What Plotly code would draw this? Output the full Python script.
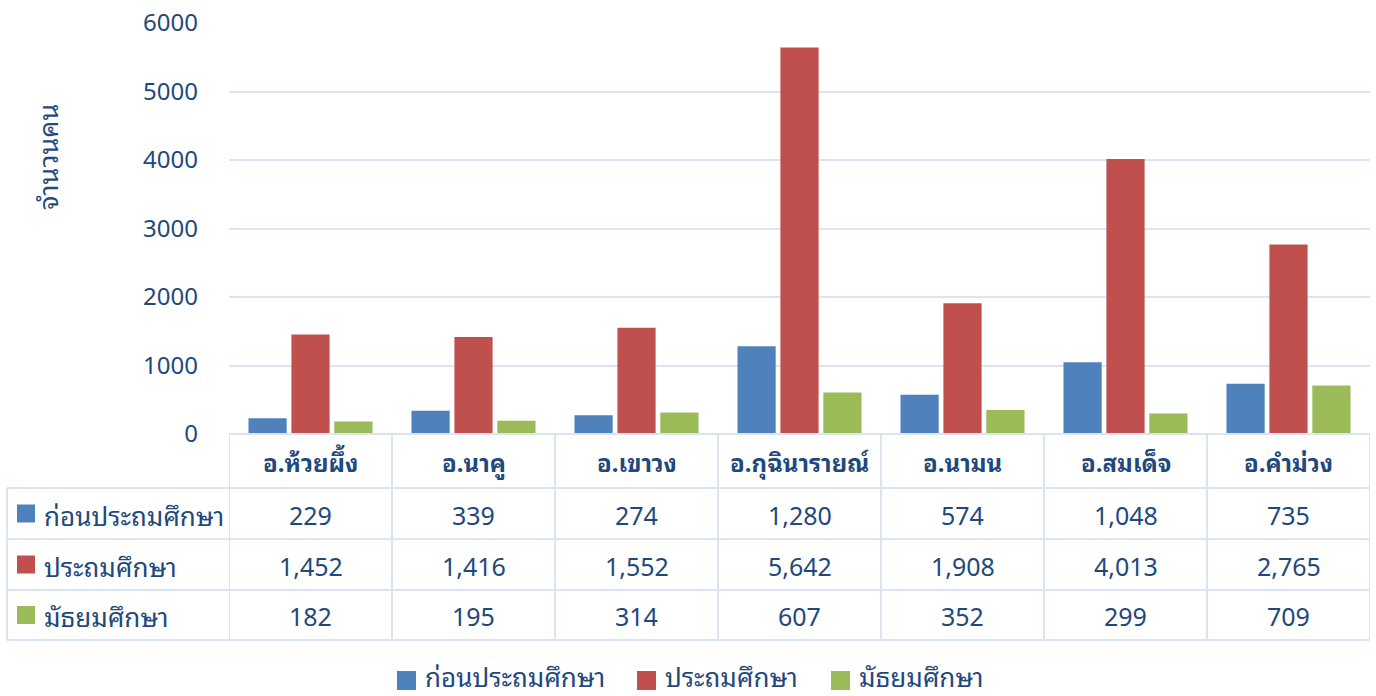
import plotly.graph_objects as go

categories = ["อ.ห้วยผึ้ง", "อ.นาคู", "อ.เขาวง", "อ.กุฉินารายณ์", "อ.นามน", "อ.สมเด็จ", "อ.คำม่วง"]
series_names = ["ก่อนประถมศึกษา", "ประถมศึกษา", "มัธยมศึกษา"]
pre_primary = [229, 339, 274, 1280, 574, 1048, 735]
primary = [1452, 1416, 1552, 5642, 1908, 4013, 2765]
secondary = [182, 195, 314, 607, 352, 299, 709]
y_ticks = [0, 1000, 2000, 3000, 4000, 5000, 6000]
y_title = "จำนวนคน"

series_values = [pre_primary, primary, secondary]
colors = ["#4F81BD", "#C0504D", "#9BBB59"]
text_color = "#1F497D"
grid_color = "#DAE5F3"
FONT = ("Tahoma, 'Noto Sans Thai Looped', 'Noto Looped Thai', Loma, Garuda, "
        "'Noto Sans', 'Noto Sans Thai', 'DejaVu Sans', sans-serif")

W, H = 1376, 696
L, R, T, B = 229, 1370, 23, 434  # plot area pixel bounds


def px_x(px):
    return (px - L) / (R - L)


def px_y(py):
    return (B - py) / (B - T)


fig = go.Figure()
for name, vals, col in zip(series_names, series_values, colors):
    fig.add_trace(go.Bar(
        x=list(range(len(categories))), y=vals, name=name,
        marker=dict(color=col, line=dict(width=0)),
        hoverinfo="y+name", showlegend=False,
    ))

shapes = []
annotations = []

row_y = [434, 488, 539, 590, 640]
line_style = dict(color=grid_color, width=2)
n = len(categories)
for i in range(n + 1):
    shapes.append(dict(type="line", xref="x", yref="paper",
                       x0=i - 0.5, x1=i - 0.5, y0=px_y(434), y1=px_y(640), line=line_style))
shapes.append(dict(type="line", xref="paper", yref="paper",
                   x0=px_x(7), x1=px_x(7), y0=px_y(488), y1=px_y(640), line=line_style))
for k, yy in enumerate(row_y):
    x0 = px_x(L) if k == 0 else px_x(7)
    shapes.append(dict(type="line", xref="paper", yref="paper",
                       x0=x0, x1=1, y0=px_y(yy), y1=px_y(yy), line=line_style))

for i, c in enumerate(categories):
    annotations.append(dict(x=i, y=px_y((434 + 488) / 2), xref="x", yref="paper",
                            text="<b>" + c + "</b>", showarrow=False,
                            font=dict(size=24, color=text_color, family=FONT),
                            xanchor="center", yanchor="middle"))

for r, (name, vals, col) in enumerate(zip(series_names, series_values, colors)):
    ymid = (row_y[r + 1] + row_y[r + 2]) / 2
    shapes.append(dict(type="rect", xref="paper", yref="paper",
                       x0=px_x(17), x1=px_x(35), y0=px_y(ymid - 9), y1=px_y(ymid + 9),
                       fillcolor=col, line=dict(width=0)))
    annotations.append(dict(x=px_x(42), y=px_y(ymid), xref="paper", yref="paper",
                            text=name, showarrow=False,
                            font=dict(size=26, color=text_color, family=FONT),
                            xanchor="left", yanchor="middle"))
    for i, v in enumerate(vals):
        annotations.append(dict(x=i, y=px_y(ymid), xref="x", yref="paper",
                                text=f"{v:,}", showarrow=False,
                                font=dict(size=25, color=text_color, family=FONT),
                                xanchor="center", yanchor="middle"))

# bottom legend (squares + labels)
legend_sq_x = [397, 637, 831]
for name, col, sx in zip(series_names, colors, legend_sq_x):
    shapes.append(dict(type="rect", xref="paper", yref="paper",
                       x0=px_x(sx), x1=px_x(sx + 19), y0=px_y(690), y1=px_y(671),
                       fillcolor=col, line=dict(width=0)))
    annotations.append(dict(x=px_x(sx + 26), y=px_y(698), xref="paper", yref="paper",
                            text=name, showarrow=False,
                            font=dict(size=26, color=text_color, family=FONT),
                            xanchor="left", yanchor="bottom"))

annotations.append(dict(x=px_x(45), y=px_y(157), xref="paper", yref="paper",
                        text=y_title, textangle=-90, showarrow=False,
                        font=dict(size=27, color=text_color, family=FONT),
                        xanchor="center", yanchor="middle"))

fig.update_layout(
    width=W, height=H,
    margin=dict(l=L, r=W - R, t=T, b=H - B, pad=0, autoexpand=False),
    paper_bgcolor="white", plot_bgcolor="white",
    barmode="group", bargap=0.21, bargroupgap=0.11,
    font=dict(family=FONT, color=text_color, size=24),
    xaxis=dict(range=[-0.5, n - 0.5], showticklabels=False, showgrid=False,
               zeroline=False, showline=False, ticks="", automargin=False, fixedrange=True),
    yaxis=dict(range=[0, 6000], tickvals=y_ticks, ticktext=[str(t) for t in y_ticks],
               showgrid=True, gridcolor=grid_color, gridwidth=2,
               zeroline=False, showline=False, ticks="", automargin=False, fixedrange=True,
               tickfont=dict(size=24, color=text_color, family=FONT),
               ticklabelstandoff=30),
    showlegend=False,
    shapes=shapes, annotations=annotations,
)

fig.write_html("out.html", config={"displayModeBar": False},
               post_script="document.body.style.margin='0px';")
